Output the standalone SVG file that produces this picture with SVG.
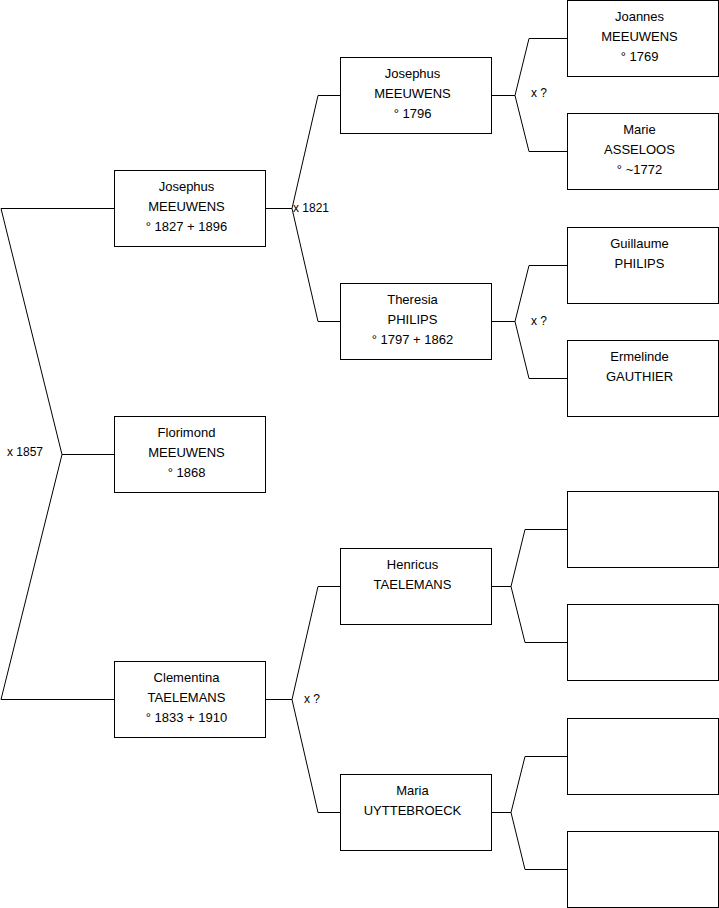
<svg xmlns="http://www.w3.org/2000/svg" width="719" height="908" viewBox="0 0 719 908">
<style>
.box{fill:#fff;stroke:#000;stroke-width:1}
.t{font-family:"Liberation Sans",Arial,sans-serif;font-size:13px;fill:#000;text-anchor:middle}
.lbl{font-family:"Liberation Sans",Arial,sans-serif;font-size:12px;fill:#000}
.c{fill:none;stroke:#000;stroke-width:1}
</style>
<rect width="719" height="908" fill="#fff"/>
<g id="connectors">
<polyline class="c" points="114,208.5 1,208.5 62,454.5 1,699.5 114,699.5"/>
<line class="c" x1="62" y1="454.5" x2="114" y2="454.5"/>
<line class="c" x1="265" y1="208.5" x2="292" y2="208.5"/>
<polyline class="c" points="340,95.5 318,95.5 292,208.5 318,321.5 340,321.5"/>
<line class="c" x1="265" y1="699.5" x2="292" y2="699.5"/>
<polyline class="c" points="340,586.5 318,586.5 292,699.5 318,812.5 340,812.5"/>
<line class="c" x1="491" y1="95.5" x2="515" y2="95.5"/>
<polyline class="c" points="567,38.5 529,38.5 515,95.5 529,151.5 567,151.5"/>
<line class="c" x1="491" y1="321.5" x2="515" y2="321.5"/>
<polyline class="c" points="567,265.5 529,265.5 515,321.5 529,378.5 567,378.5"/>
<line class="c" x1="491" y1="586.5" x2="511" y2="586.5"/>
<polyline class="c" points="567,529.5 525,529.5 511,586.5 525,642.5 567,642.5"/>
<line class="c" x1="491" y1="812.5" x2="511" y2="812.5"/>
<polyline class="c" points="567,756.5 525,756.5 511,812.5 525,869.5 567,869.5"/>
<text class="lbl" x="7" y="456">x 1857</text>
<text class="lbl" x="293" y="212">x 1821</text>
<text class="lbl" x="304" y="703">x ?</text>
<text class="lbl" x="531" y="97">x ?</text>
<text class="lbl" x="531" y="325">x ?</text>
</g>
<g id="n-josephus-1827">
<rect class="box" x="114.5" y="170.5" width="151" height="76"/>
<text class="t" x="186.5" y="190.5">Josephus</text>
<text class="t" x="186.5" y="210.5">MEEUWENS</text>
<text class="t" x="186.5" y="230.5">° 1827 + 1896</text>
</g>
<g id="n-florimond">
<rect class="box" x="114.5" y="416.5" width="151" height="76"/>
<text class="t" x="186.5" y="436.5">Florimond</text>
<text class="t" x="186.5" y="456.5">MEEUWENS</text>
<text class="t" x="186.5" y="476.5">° 1868</text>
</g>
<g id="n-clementina">
<rect class="box" x="114.5" y="661.5" width="151" height="76"/>
<text class="t" x="186.5" y="681.5">Clementina</text>
<text class="t" x="186.5" y="701.5">TAELEMANS</text>
<text class="t" x="186.5" y="721.5">° 1833 + 1910</text>
</g>
<g id="n-josephus-1796">
<rect class="box" x="340.5" y="57.5" width="151" height="76"/>
<text class="t" x="412.5" y="77.5">Josephus</text>
<text class="t" x="412.5" y="97.5">MEEUWENS</text>
<text class="t" x="412.5" y="117.5">° 1796</text>
</g>
<g id="n-theresia">
<rect class="box" x="340.5" y="283.5" width="151" height="76"/>
<text class="t" x="412.5" y="303.5">Theresia</text>
<text class="t" x="412.5" y="323.5">PHILIPS</text>
<text class="t" x="412.5" y="343.5">° 1797 + 1862</text>
</g>
<g id="n-henricus">
<rect class="box" x="340.5" y="548.5" width="151" height="76"/>
<text class="t" x="412.5" y="568.5">Henricus</text>
<text class="t" x="412.5" y="588.5">TAELEMANS</text>
</g>
<g id="n-maria">
<rect class="box" x="340.5" y="774.5" width="151" height="76"/>
<text class="t" x="412.5" y="794.5">Maria</text>
<text class="t" x="412.5" y="814.5">UYTTEBROECK</text>
</g>
<g id="n-joannes">
<rect class="box" x="567.5" y="0.5" width="151" height="76"/>
<text class="t" x="639.5" y="20.5">Joannes</text>
<text class="t" x="639.5" y="40.5">MEEUWENS</text>
<text class="t" x="639.5" y="60.5">° 1769</text>
</g>
<g id="n-marie">
<rect class="box" x="567.5" y="113.5" width="151" height="76"/>
<text class="t" x="639.5" y="133.5">Marie</text>
<text class="t" x="639.5" y="153.5">ASSELOOS</text>
<text class="t" x="639.5" y="173.5">° ~1772</text>
</g>
<g id="n-guillaume">
<rect class="box" x="567.5" y="227.5" width="151" height="76"/>
<text class="t" x="639.5" y="247.5">Guillaume</text>
<text class="t" x="639.5" y="267.5">PHILIPS</text>
</g>
<g id="n-ermelinde">
<rect class="box" x="567.5" y="340.5" width="151" height="76"/>
<text class="t" x="639.5" y="360.5">Ermelinde</text>
<text class="t" x="639.5" y="380.5">GAUTHIER</text>
</g>
<g id="n-empty-1"><rect class="box" x="567.5" y="491.5" width="151" height="76"/></g>
<g id="n-empty-2"><rect class="box" x="567.5" y="604.5" width="151" height="76"/></g>
<g id="n-empty-3"><rect class="box" x="567.5" y="718.5" width="151" height="76"/></g>
<g id="n-empty-4"><rect class="box" x="567.5" y="831.5" width="151" height="76"/></g>
</svg>
